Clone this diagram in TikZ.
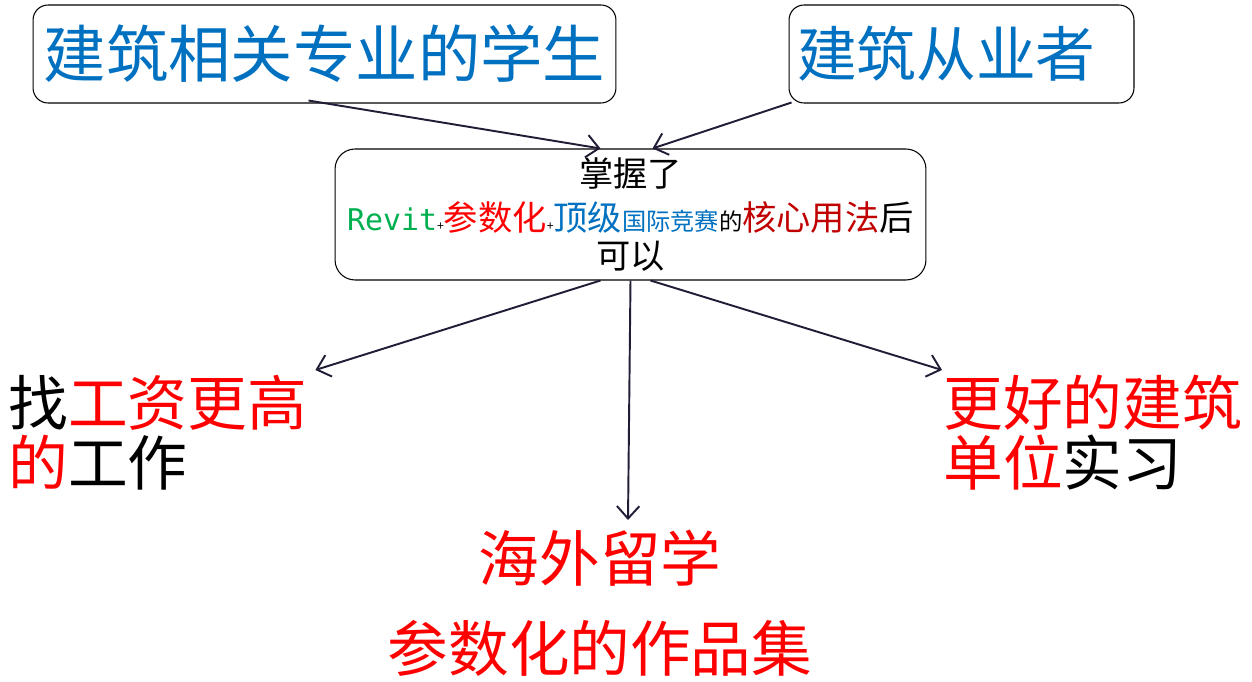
\documentclass[tikz,border=0pt]{standalone}
\usepackage{fontspec}
\setmainfont{Noto Sans CJK SC}
\newfontfamily\revitfont{DejaVu Sans Mono}
\usepackage{xcolor}
\usetikzlibrary{arrows.meta,positioning,calc}
\definecolor{bleu}{RGB}{0,112,192}
\definecolor{rouge}{RGB}{255,0,0}
\definecolor{vert}{RGB}{0,176,80}
\definecolor{bordeaux}{RGB}{192,0,0}
\definecolor{encre}{RGB}{35,28,55}
\newcommand{\grand}{\fontsize{34}{34}\selectfont}
\newcommand{\petit}[1]{{\fontsize{7}{7}\selectfont #1}}

\begin{document}
\begin{tikzpicture}[
    x=0.02cm,y=-0.02cm,
    box/.style={draw,rounded corners=3mm,line width=0.6pt,inner sep=0pt},
    big/.style={font=\grand,inner sep=0pt,align=left},
    line/.style={draw=encre,line width=1.1pt,-{Straight Barb[length=2.5mm,width=4.5mm]}}
]
    \useasboundingbox (0,0) rectangle (1252,682);

    \node[box,minimum width=11.66cm,minimum height=1.96cm,font=\fontsize{35.5}{35.5}\selectfont,text=bleu] (stu) at (324.5,54) {建筑相关专业的学生};
    \node[box,minimum width=6.9cm,minimum height=1.96cm,text width=6.58cm,align=left,font=\grand,text=bleu] (pro) at (961.5,54) {建筑从业者};

    \node[box,rounded corners=4mm,minimum width=11.82cm,minimum height=2.62cm,align=center,font=\fontsize{19.5}{22}\selectfont] (mid) at (630.5,214.5)
        {掌握了\\[3pt]
         {\revitfont\fontsize{17}{17}\selectfont\textcolor{vert}{Revit}}\petit{+}\textcolor{rouge}{参数化}\petit{+}\textcolor{bleu}{顶级{\fontsize{13.8}{13.8}\selectfont 国际竞赛}}{\fontsize{13.3}{13.3}\selectfont 的}\textcolor{bordeaux}{核心用法}后\\
         可以};

    \node[big,anchor=north west] (job) at (8,375) {找\textcolor{rouge}{工资更高}\\\textcolor{rouge}{的}工作};
    \node[big,anchor=north west] (intern) at (943,375) {\textcolor{rouge}{更好的建筑}\\\textcolor{rouge}{单位}实习};
    \node[big,align=center,font=\fontsize{34.5}{51}\selectfont,text=rouge,anchor=north] (abroad) at (600,530) {海外留学\\参数化的作品集};

    \draw[line] ($(stu.south)+(-16,-3)$) -- ($(mid.north)+(-30,0)$);
    \draw[line] ($(pro.south west)+(3,-1)$) -- ($(mid.north)+(22,0)$);
    \draw[line] ($(mid.south)+(-30,0)$) -- ($(job.north east)+(8,-5)$);
    \draw[line] (mid.south) -- ($(abroad.north)+(28,-10)$);
    \draw[line] ($(mid.south)+(20,0)$) -- ($(intern.north west)+(-1,-5)$);
\end{tikzpicture}
\end{document}
